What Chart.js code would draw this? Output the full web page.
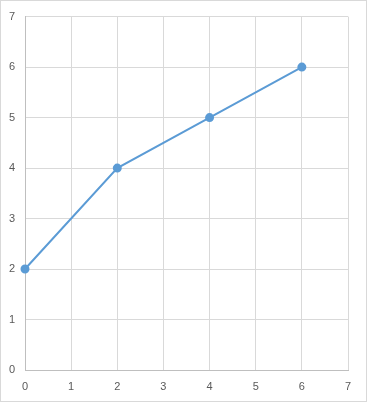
<!DOCTYPE html>
<html>
<head>
<meta charset="utf-8">
<script src="https://cdn.jsdelivr.net/npm/chart.js@4"></script>
<style>
  html, body { margin: 0; padding: 0; background: #fff; }
  #wrap { width: 367px; height: 402px; position: relative; }
</style>
</head>
<body>
<div id="wrap"><canvas id="chart" width="367" height="402"></canvas></div>
<script>
// Data
const xValues = [0, 2, 4, 6];
const yValues = [2, 4, 5, 6];
const xTicks = [0, 1, 2, 3, 4, 5, 6, 7];
const yTicks = [0, 1, 2, 3, 4, 5, 6, 7];

const points = xValues.map((x, i) => ({ x: x, y: yValues[i] }));

// outer frame like the spreadsheet chart box
const framePlugin = {
    id: 'frame',
    afterDraw(chart) {
        const ctx = chart.ctx;
        ctx.save();
        ctx.strokeStyle = '#d9d9d9';
        ctx.lineWidth = 1;
        ctx.strokeRect(0.5, 0.5, chart.width - 1, chart.height - 1);
        ctx.restore();
    }
};

const tickFont = { family: 'Liberation Sans', size: 11 };

new Chart(document.getElementById('chart'), {
    type: 'scatter',
    data: {
        datasets: [{
            data: points,
            showLine: true,
            clip: false,
            borderColor: '#5b9bd5',
            backgroundColor: '#5b9bd5',
            borderWidth: 2,
            pointRadius: 3.5,
            pointHoverRadius: 3.5
        }]
    },
    options: {
        responsive: false,
        animation: false,
        layout: { padding: { top: 15, right: 19, left: 0, bottom: 0 } },
        plugins: { legend: { display: false }, tooltip: { enabled: false } },
        scales: {
            x: {
                type: 'linear',
                min: xTicks[0],
                max: xTicks[xTicks.length - 1],
                afterBuildTicks: axis => { axis.ticks = xTicks.map(v => ({ value: v })); },
                afterFit: axis => { axis.height = 32; },
                grid: { color: '#d9d9d9', drawTicks: false },
                border: { color: '#bfbfbf' },
                ticks: { color: '#595959', font: tickFont, padding: 10 }
            },
            y: {
                type: 'linear',
                min: yTicks[0],
                max: yTicks[yTicks.length - 1],
                afterBuildTicks: axis => { axis.ticks = yTicks.map(v => ({ value: v })); },
                afterFit: axis => { axis.width = 25; },
                grid: { color: '#d9d9d9', drawTicks: false },
                border: { color: '#bfbfbf' },
                ticks: { color: '#595959', font: tickFont, padding: 10 }
            }
        }
    },
    plugins: [framePlugin]
});
</script>
</body>
</html>
